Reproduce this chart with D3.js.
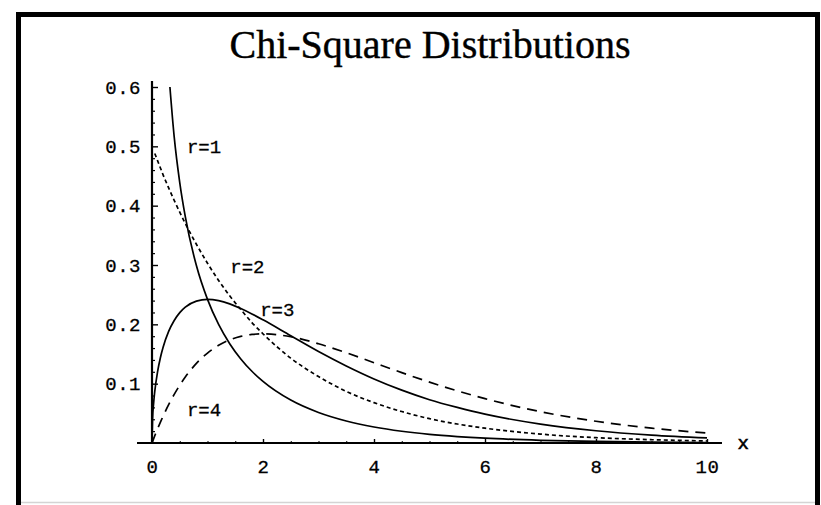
<!DOCTYPE html>
<html>
<head>
<meta charset="utf-8">
<script src="https://cdn.jsdelivr.net/npm/d3@7"></script>
<style>
  html, body { margin: 0; padding: 0; background: #fff; }
  svg { display: block; }
</style>
</head>
<body>
<svg id="chart" width="821" height="505"></svg>
<script>
// Sample points along x, shared by all four density curves
const xGrid = [0, 0.01, 0.03, 0.05, 0.1, 0.15, 0.2, 0.3, 0.4, 0.5, 0.6, 0.8, 1.0, 1.2, 1.4, 1.6, 1.8, 2.0,
               2.5, 3, 3.5, 4, 4.5, 5, 5.5, 6, 7, 8, 9, 10];

// Density values for each degrees-of-freedom curve (null = not drawn there)
const r1Values = [null, null, null, null, null, null, null, 0.627, 0.516, 0.439, 0.3815, 0.299, 0.242, 0.1999,
                  0.1674, 0.1417, 0.1209, 0.1038, 0.0723, 0.0514, 0.0371, 0.0270, 0.0198, 0.0146, 0.0109,
                  0.0081, 0.00455, 0.00258, 0.00148, 0.00085];
const r2Values = [null, null, null, 0.488, 0.476, 0.464, 0.452, 0.430, 0.409, 0.389, 0.370, 0.335, 0.303, 0.274,
                  0.248, 0.225, 0.203, 0.184, 0.143, 0.112, 0.087, 0.068, 0.053, 0.041, 0.032, 0.025, 0.015,
                  0.009, 0.0056, 0.0034];
const r3Values = [0, 0.0397, 0.0681, 0.0870, 0.1200, 0.1433, 0.1614, 0.1881, 0.2065, 0.2197, 0.2289, 0.2392,
                  0.2420, 0.2399, 0.2344, 0.2267, 0.2176, 0.2076, 0.1808, 0.1542, 0.1299, 0.1080, 0.0891,
                  0.0730, 0.0600, 0.0486, 0.0319, 0.0206, 0.0133, 0.0085];
const r4Values = [0, 0.0025, 0.0074, 0.0122, 0.0238, 0.0348, 0.0452, 0.0646, 0.0819, 0.0974, 0.1111, 0.1341,
                  0.1516, 0.1646, 0.1738, 0.1797, 0.1830, 0.1839, 0.1791, 0.1673, 0.1521, 0.1353, 0.1186,
                  0.1026, 0.0879, 0.0747, 0.0528, 0.0366, 0.0250, 0.0168];

const seriesNames = ["r=1", "r=2", "r=3", "r=4"];
// Where each curve's label sits, in data units (x, y at baseline)
const labelX = [0.63, 1.41, 1.95, 0.63];
const labelY = [0.489, 0.287, 0.214, 0.0455];

const xTickValues = [0, 2, 4, 6, 8, 10];
const yTickValues = [0.1, 0.2, 0.3, 0.4, 0.5, 0.6];
const titleText = "Chi-Square Distributions";

const svg = d3.select("#chart");
const monoFont = "'Liberation Mono', 'DejaVu Sans Mono', monospace";

// Outer frame
svg.append("rect")
  .attr("x", 18.5).attr("y", 14.5)
  .attr("width", 799).attr("height", 520)
  .attr("fill", "#fff").attr("stroke", "#000").attr("stroke-width", 5);
svg.append("line")
  .attr("x1", 21).attr("x2", 815).attr("y1", 502.5).attr("y2", 502.5)
  .attr("stroke", "#d4d4d4").attr("stroke-width", 1.5);

const x = d3.scaleLinear().domain([0, 10]).range([152, 707]);
const y = d3.scaleLinear().domain([0, 0.6]).range([443, 87]);

// Title
svg.append("text")
  .attr("x", 430).attr("y", 58)
  .attr("text-anchor", "middle")
  .attr("font-family", "'Liberation Serif', 'DejaVu Serif', serif")
  .attr("font-size", 40)
  .attr("fill", "#000")
  .attr("stroke", "#000").attr("stroke-width", 0.4)
  .text(titleText);

// Clip curves to the plotting range
svg.append("clipPath").attr("id", "plotClip")
  .append("rect")
  .attr("x", x(0)).attr("y", y(0.6))
  .attr("width", x(10.3) - x(0)).attr("height", y(0) - y(0.6) + 2);

// Axis lines
svg.append("line")
  .attr("x1", x(-0.27)).attr("x2", x(10.27))
  .attr("y1", y(0)).attr("y2", y(0))
  .attr("stroke", "#000").attr("stroke-width", 2);
svg.append("line")
  .attr("x1", x(0)).attr("x2", x(0))
  .attr("y1", y(0)).attr("y2", y(0.61))
  .attr("stroke", "#000").attr("stroke-width", 2.2);

// Y minor ticks (inward)
const yMinor = d3.range(0.02, 0.601, 0.02).filter(v => Math.abs(v * 10 - Math.round(v * 10)) > 1e-6);
svg.append("g")
  .attr("transform", `translate(${x(0)},0)`)
  .call(d3.axisLeft(y).tickValues(yMinor).tickSizeInner(-3).tickSizeOuter(0).tickFormat(""))
  .call(g => g.select(".domain").remove())
  .call(g => g.selectAll("line").attr("stroke-width", 1.2));

// Y major ticks with labels
svg.append("g")
  .attr("transform", `translate(${x(0)},0)`)
  .call(d3.axisLeft(y).tickValues(yTickValues).tickSizeInner(-6).tickSizeOuter(0)
        .tickPadding(11).tickFormat(d3.format(".1f")))
  .call(g => g.select(".domain").remove())
  .call(g => g.selectAll("line").attr("stroke-width", 1.4))
  .call(g => g.selectAll("text")
      .attr("font-family", monoFont).attr("font-size", 19)
      .attr("letter-spacing", 0.5).attr("fill", "#000")
      .attr("stroke", "#000").attr("stroke-width", 0.3));

// X minor ticks (inward)
const xMinor = d3.range(0.5, 10.01, 0.5).filter(v => v % 2 !== 0);
svg.append("g")
  .attr("transform", `translate(0,${y(0)})`)
  .call(d3.axisBottom(x).tickValues(xMinor).tickSizeInner(-2).tickSizeOuter(0).tickFormat(""))
  .call(g => g.select(".domain").remove())
  .call(g => g.selectAll("line").attr("stroke-width", 1));

// X major ticks with labels
svg.append("g")
  .attr("transform", `translate(0,${y(0)})`)
  .call(d3.axisBottom(x).tickValues(xTickValues).tickSizeInner(-4).tickSizeOuter(0)
        .tickPadding(17).tickFormat(d3.format("d")))
  .call(g => g.select(".domain").remove())
  .call(g => g.selectAll("line").attr("stroke-width", 1.4))
  .call(g => g.selectAll("text")
      .attr("font-family", monoFont).attr("font-size", 19)
      .attr("letter-spacing", 0.5).attr("fill", "#000")
      .attr("stroke", "#000").attr("stroke-width", 0.3));

// Axis name
svg.append("text")
  .attr("x", x(10.55)).attr("y", y(0) + 6)
  .attr("font-family", monoFont).attr("font-size", 19)
  .attr("fill", "#000").attr("stroke", "#000").attr("stroke-width", 0.6)
  .text("x");

// Curves
const seriesValues = [r1Values, r2Values, r3Values, r4Values];
const dashes = [null, "4,3", null, "10,7"];

const line = d3.line()
  .defined(d => d.v !== null)
  .x(d => x(d.x))
  .y(d => y(d.v))
  .curve(d3.curveMonotoneX);

const curves = svg.append("g").attr("clip-path", "url(#plotClip)");
seriesValues.forEach((vals, i) => {
  const pts = xGrid.map((xv, j) => ({ x: xv, v: vals[j] }));
  curves.append("path")
    .datum(pts)
    .attr("d", line)
    .attr("fill", "none")
    .attr("stroke", "#000")
    .attr("stroke-width", 1.7)
    .attr("stroke-dasharray", dashes[i]);
});

// Curve labels
svg.append("g").selectAll("text")
  .data(seriesNames)
  .join("text")
  .attr("x", (d, i) => x(labelX[i]))
  .attr("y", (d, i) => y(labelY[i]))
  .attr("font-family", monoFont).attr("font-size", 19)
  .attr("fill", "#000").attr("stroke", "#000").attr("stroke-width", 0.3)
  .text(d => d);
</script>
</body>
</html>
